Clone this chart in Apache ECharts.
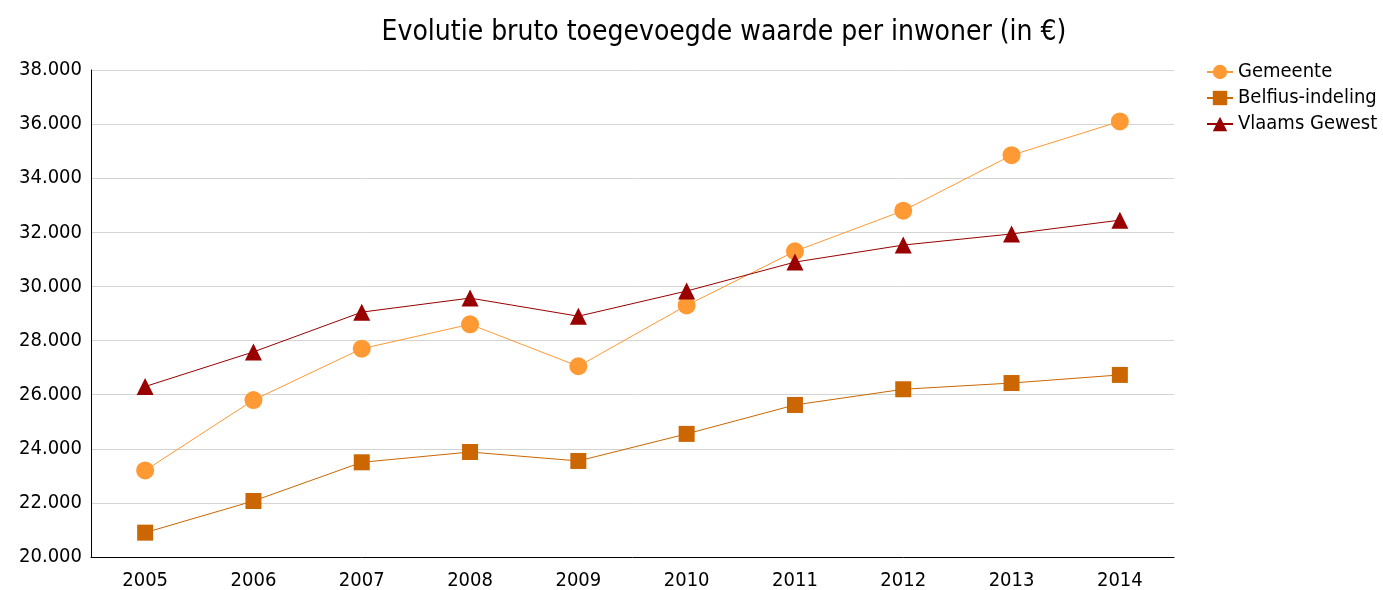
<!DOCTYPE html>
<html>
<head>
<meta charset="utf-8">
<script src="https://cdn.jsdelivr.net/npm/echarts@6/dist/echarts.min.js"></script>
<style>
  html, body { margin: 0; padding: 0; background: #fff; }
  #chart { width: 1383px; height: 590px; }
</style>
</head>
<body>
<div id="chart"></div>
<script>
// Years on the category axis
const years = ['2005', '2006', '2007', '2008', '2009', '2010', '2011', '2012', '2013', '2014'];

// Gross value added per inhabitant (EUR)
const gemeente = [23200, 25800, 27700, 28600, 27050, 29300, 31300, 32800, 34850, 36100];
const belfius = [20900, 22070, 23500, 23880, 23550, 24550, 25620, 26200, 26430, 26730];
const vlaams = [26300, 27580, 29050, 29570, 28900, 29830, 30900, 31530, 31940, 32450];

const FONT = 'DejaVu Sans Condensed, DejaVu Sans';

function fmt(v) {
  return String(v).replace(/\B(?=(\d{3})+(?!\d))/g, '.');
}

const chart = echarts.init(document.getElementById('chart'));

function lineSeries(name, data, color, symbol, size) {
  return {
    name: name,
    type: 'line',
    data: data,
    symbol: symbol,
    symbolSize: size,
    showAllSymbol: true,
    lineStyle: { color: color, width: 1 },
    itemStyle: { color: color },
    emphasis: { disabled: true },
    animation: false
  };
}

chart.setOption({
  backgroundColor: '#ffffff',
  title: {
    text: 'Evolutie bruto toegevoegde waarde per inwoner (in €)',
    left: 719,
    textAlign: 'center',
    top: 14,
    textStyle: { fontFamily: FONT, fontSize: 28, fontWeight: 'normal', color: '#000' }
  },
  legend: {
    orient: 'vertical',
    left: 1201,
    top: 57,
    itemGap: 6,
    itemWidth: 26,
    itemHeight: 18,
    textStyle: { fontFamily: FONT, fontSize: 20, color: '#000' },
    data: ['Gemeente', 'Belfius-indeling', 'Vlaams Gewest']
  },
  grid: { left: 91, right: 209, top: 70, bottom: 33, containLabel: false, outerBoundsMode: 'none' },
  xAxis: {
    type: 'category',
    data: years,
    boundaryGap: true,
    axisLine: { lineStyle: { color: '#000', width: 1 } },
    axisTick: { show: false },
    axisLabel: { fontFamily: FONT, fontSize: 20, color: '#000', margin: 14 },
    splitLine: { show: false }
  },
  yAxis: {
    type: 'value',
    min: 20000,
    max: 38000,
    interval: 2000,
    axisLine: { show: true, lineStyle: { color: '#000', width: 1 } },
    axisTick: { show: false },
    axisLabel: { fontFamily: FONT, fontSize: 20, color: '#000', margin: 9, formatter: fmt },
    splitLine: { lineStyle: { color: '#d4d4d4', width: 1 } }
  },
  series: [
    lineSeries('Gemeente', gemeente, '#ff9933', 'circle', 18),
    lineSeries('Belfius-indeling', belfius, '#cc6600', 'rect', 16),
    lineSeries('Vlaams Gewest', vlaams, '#990000', 'triangle', 17)
  ]
});
</script>
</body>
</html>
